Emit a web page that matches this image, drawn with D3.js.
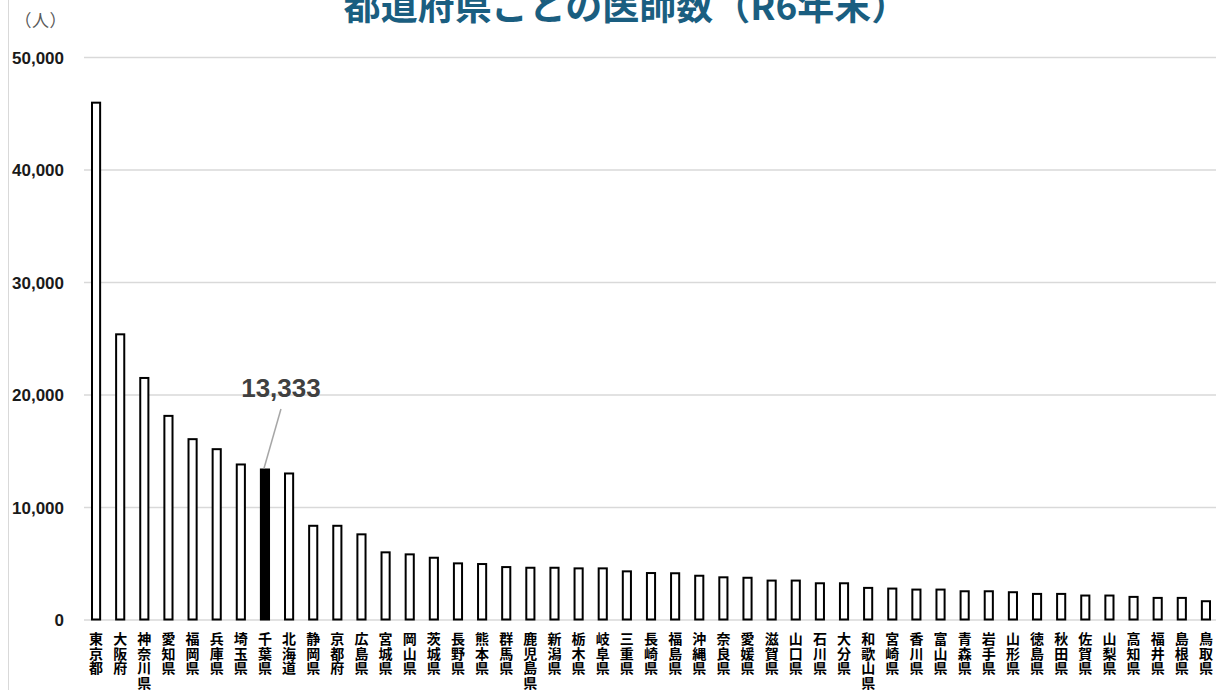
<!DOCTYPE html>
<html>
<head>
<meta charset="utf-8">
<script src="https://cdn.jsdelivr.net/npm/d3@7"></script>
<style>
  body { margin: 0; background: #fff; }
  svg { display: block; }
</style>
</head>
<body>
<div id="chart"></div>
<script>
var WIDTH = 1216;
var HEIGHT = 690;

var TITLE = "都道府県ごとの医師数（R6年末）";
var UNIT = "（人）";

var prefectures = [
    "東京都", "大阪府", "神奈川県", "愛知県", "福岡県", "兵庫県", "埼玉県", "千葉県",
    "北海道", "静岡県", "京都府", "広島県", "宮城県", "岡山県", "茨城県", "長野県",
    "熊本県", "群馬県", "鹿児島県", "新潟県", "栃木県", "岐阜県", "三重県", "長崎県",
    "福島県", "沖縄県", "奈良県", "愛媛県", "滋賀県", "山口県", "石川県", "大分県",
    "和歌山県", "宮崎県", "香川県", "富山県", "青森県", "岩手県", "山形県", "徳島県",
    "秋田県", "佐賀県", "山梨県", "高知県", "福井県", "島根県", "鳥取県"
];

var doctors = [
    45940, 25350, 21470, 18100, 16030, 15140, 13780, 13333,
    12980, 8330, 8330, 7570, 5970, 5790, 5490, 4990,
    4930, 4660, 4600, 4600, 4545, 4545, 4280, 4130,
    4110, 3890, 3750, 3710, 3460, 3460, 3220, 3220,
    2810, 2750, 2660, 2660, 2510, 2510, 2425, 2275,
    2275, 2130, 2130, 2010, 1920, 1920, 1625
];

var yTicks = [0, 10000, 20000, 30000, 40000, 50000];

var HIGHLIGHT = "千葉県";

var margin = { left: 84, right: -2, top: 57, bottom: 70 };

function init() {
    var svg = d3.select("#chart").append("svg")
        .attr("width", WIDTH)
        .attr("height", HEIGHT);

    var x = d3.scaleBand()
        .domain(prefectures)
        .range([margin.left, WIDTH - margin.right])
        .paddingInner(0.58)
        .paddingOuter(0.29);

    var y = d3.scaleLinear()
        .domain([0, 50000])
        .range([HEIGHT - margin.bottom - 0.5, margin.top]);

    // left border of the sheet
    svg.append("line")
        .attr("x1", 8.5).attr("x2", 8.5)
        .attr("y1", 0).attr("y2", HEIGHT)
        .attr("stroke", "#d9d9d9")
        .attr("stroke-width", 1);

    // gridlines
    var grid = svg.append("g")
        .attr("transform", `translate(${margin.left},0)`)
        .call(d3.axisLeft(y)
            .tickValues(yTicks)
            .tickSize(-(WIDTH - margin.left))
            .tickFormat(""));
    grid.select(".domain").remove();
    grid.selectAll(".tick line")
        .attr("stroke", "#d9d9d9")
        .attr("stroke-width", 1.5);

    // y labels
    var yAxis = svg.append("g")
        .attr("transform", "translate(64,0)")
        .call(d3.axisLeft(y)
            .tickValues(yTicks)
            .tickSize(0)
            .tickPadding(0)
            .tickFormat(d3.format(",")));
    yAxis.select(".domain").remove();
    yAxis.selectAll(".tick text")
        .attr("dy", "0.37em")
        .style("font-family", "'Liberation Sans', Arial, sans-serif")
        .style("font-weight", "bold")
        .style("font-size", "17px")
        .attr("fill", "#1a1a1a");

    // unit label, proportional brackets
    svg.append("text")
        .attr("x", 41)
        .attr("y", 27)
        .attr("text-anchor", "middle")
        .style("font-family", "'Noto Sans CJK JP', sans-serif")
        .style("font-size", "17px")
        .style("font-feature-settings", "'palt'")
        .style("letter-spacing", "1px")
        .attr("fill", "#595959")
        .text(UNIT);

    // bars
    svg.append("g").selectAll("rect")
        .data(prefectures)
        .join("rect")
        .attr("x", d => x(d) + 1)
        .attr("width", x.bandwidth() - 2)
        .attr("y", (d, i) => y(doctors[i]))
        .attr("height", (d, i) => y(0) - y(doctors[i]))
        .attr("fill", d => d === HIGHLIGHT ? "#000" : "#fff")
        .attr("stroke", "#000")
        .attr("stroke-width", 2);

    // vertical category labels, one character per line
    var labels = svg.append("g").selectAll("text")
        .data(prefectures)
        .join("text")
        .attr("text-anchor", "middle")
        .style("font-family", "'Noto Sans CJK JP', sans-serif")
        .style("font-weight", "bold")
        .style("font-size", "14px")
        .attr("fill", "#000");
    labels.selectAll("tspan")
        .data(d => Array.from(d).map(c => ({ c: c, name: d })))
        .join("tspan")
        .attr("x", d => x(d.name) + x.bandwidth() / 2)
        .attr("y", (d, i) => 644 + i * 14.5)
        .text(d => d.c);

    // callout for the highlighted bar
    var hi = prefectures.indexOf(HIGHLIGHT);
    var hx = x(HIGHLIGHT) + x.bandwidth() / 2;
    svg.append("line")
        .attr("x1", hx + 16).attr("y1", 409)
        .attr("x2", hx - 1).attr("y2", y(doctors[hi]) - 1)
        .attr("stroke", "#a6a6a6")
        .attr("stroke-width", 1.5);
    svg.append("text")
        .attr("x", hx + 16)
        .attr("y", 397)
        .attr("text-anchor", "middle")
        .style("font-family", "'Liberation Sans', Arial, sans-serif")
        .style("font-weight", "bold")
        .style("font-size", "26px")
        .attr("fill", "#404040")
        .text(d3.format(",")(doctors[hi]));

    // title, partly above the frame
    svg.append("text")
        .attr("x", 626)
        .attr("y", 20)
        .attr("text-anchor", "middle")
        .style("font-family", "'Noto Sans CJK JP', sans-serif")
        .style("font-weight", "bold")
        .style("font-size", "37px")
        .attr("fill", "#1a5e80")
        .text(TITLE);
}

init();
</script>
</body>
</html>
